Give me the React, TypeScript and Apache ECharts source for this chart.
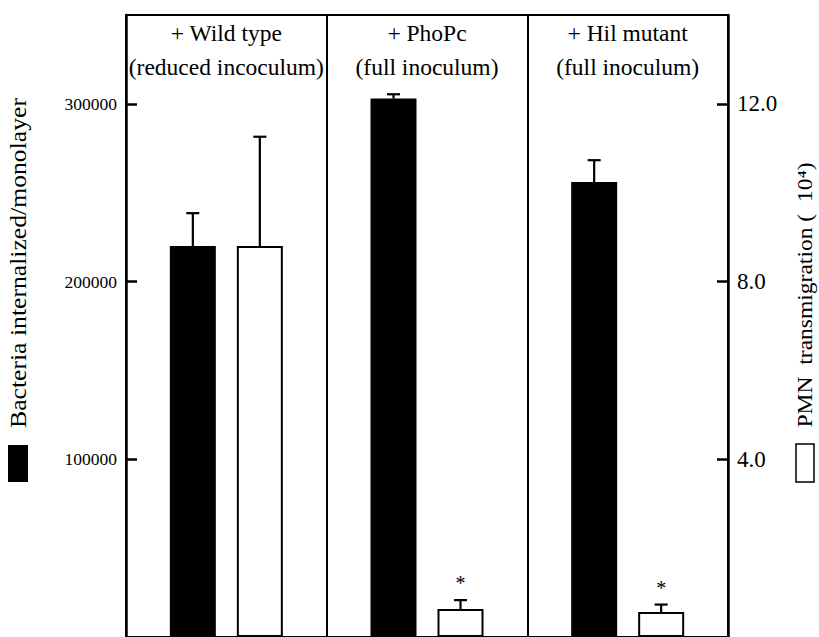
import React, { useEffect, useRef } from "react";
import * as echarts from "echarts";

// ---- data ----
const groupNames = ["+ Wild type", "+ PhoPc", "+ Hil mutant"];
const inoculum = ["(reduced incoculum)", "(full inoculum)", "(full inoculum)"];
const bacteriaValues = [220000, 303000, 256000];
const bacteriaErrors = [18500, 2400, 12300];
const pmnValues = [8.8, 0.63, 0.56];
const pmnErrors = [2.46, 0.2, 0.17];
const pmnSignificant = [false, true, true];
const leftTicks = [100000, 200000, 300000];
const rightTicks = [4, 8, 12];
const leftAxisName = "Bacteria internalized/monolayer";
const rightAxisName = "PMN  transmigration (  10⁴)";

const FONT = "Liberation Serif, Times New Roman, serif";
const BAR_W = 46;
const BAR_GAP = 21;
const OFFSET = (BAR_W + BAR_GAP) / 2;

export default function App() {
  const ref = useRef<HTMLDivElement>(null);
  useEffect(() => {
    document.body.style.margin = "0";
    const chart = echarts.init(ref.current!, null, { renderer: "svg" });
    const categories = groupNames.map((g, i) => g + "\n" + inoculum[i]);

    const errRender = (side: number, sig: boolean[]) => (params: any, api: any) => {
      const i = api.value(0);
      const base = api.coord([i, api.value(1)]);
      const top = api.coord([i, api.value(2)]);
      const x = base[0] + side * OFFSET;
      const children: any[] = [
        { type: "line", shape: { x1: x, y1: base[1], x2: x, y2: top[1] }, style: { stroke: "#000", lineWidth: 2.2 } },
        { type: "line", shape: { x1: x - 6.5, y1: top[1], x2: x + 6.5, y2: top[1] }, style: { stroke: "#000", lineWidth: 2.2 } },
      ];
      if (sig[i]) {
        children.push({
          type: "text",
          x: x,
          y: top[1] - 17,
          style: { text: "*", fontSize: 20, fontFamily: FONT, fill: "#000", align: "center", verticalAlign: "middle" },
        });
      }
      return { type: "group", children };
    };

    chart.setOption({
      animation: false,
      backgroundColor: "#fff",
      textStyle: { fontFamily: FONT },
      grid: { left: 126, right: 91, top: 15, bottom: -4 },
      xAxis: [
        {
          type: "category",
          data: categories,
          position: "bottom",
          axisLine: { show: true, onZero: false, lineStyle: { color: "#000", width: 2 } },
          axisTick: { show: false },
          axisLabel: { show: false },
          splitLine: { show: true, interval: 0, lineStyle: { color: "#000", width: 2 } },
        },
        {
          type: "category",
          data: categories,
          position: "top",
          axisLine: { show: true, onZero: false, lineStyle: { color: "#000", width: 2 } },
          axisTick: { show: false },
          axisLabel: {
            inside: true,
            interval: 0,
            margin: 1,
            fontSize: 23.5,
            lineHeight: 34,
            fontFamily: FONT,
            color: "#000",
          },
        },
      ],
      yAxis: [
        {
          type: "value",
          min: 0,
          max: 350000,
          interval: 100000,
          position: "left",
          axisLine: { show: true, lineStyle: { color: "#000", width: 2.5 } },
          axisTick: { show: true, inside: true, length: 11, lineStyle: { color: "#000", width: 2.5 } },
          splitLine: { show: false },
          axisLabel: {
            margin: 9,
            fontSize: 17.5,
            fontFamily: FONT,
            color: "#000",
            showMinLabel: false,
            showMaxLabel: false,
            formatter: (v: number) => (leftTicks.includes(v) ? String(v) : ""),
          },
        },
        {
          type: "value",
          min: 0,
          max: 14,
          interval: 4,
          position: "right",
          axisLine: { show: true, lineStyle: { color: "#000", width: 2.5 } },
          axisTick: { show: true, inside: true, length: 11, lineStyle: { color: "#000", width: 2.5 } },
          splitLine: { show: false },
          axisLabel: {
            margin: 9,
            fontSize: 23,
            fontFamily: FONT,
            color: "#000",
            showMinLabel: false,
            showMaxLabel: false,
            formatter: (v: number) => (rightTicks.includes(v) ? v.toFixed(1) : ""),
          },
        },
      ],
      series: [
        {
          name: "Bacteria",
          type: "bar",
          xAxisIndex: 0,
          yAxisIndex: 0,
          data: bacteriaValues,
          barWidth: BAR_W,
          barGap: (BAR_GAP / BAR_W) * 100 + "%",
          itemStyle: { color: "#000" },
        },
        {
          name: "PMN",
          type: "bar",
          xAxisIndex: 0,
          yAxisIndex: 1,
          data: pmnValues,
          barWidth: BAR_W,
          barGap: (BAR_GAP / BAR_W) * 100 + "%",
          itemStyle: { color: "#fff", borderColor: "#000", borderWidth: 2 },
        },
        {
          type: "custom",
          xAxisIndex: 0,
          yAxisIndex: 0,
          z: 5,
          encode: { x: 0, y: [1, 2] },
          data: bacteriaValues.map((v, i) => [i, v, v + bacteriaErrors[i]]),
          renderItem: errRender(-1, [false, false, false]),
        },
        {
          type: "custom",
          xAxisIndex: 0,
          yAxisIndex: 1,
          z: 5,
          encode: { x: 0, y: [1, 2] },
          data: pmnValues.map((v, i) => [i, v, v + pmnErrors[i]]),
          renderItem: errRender(1, pmnSignificant),
        },
      ],
      graphic: [
        {
          type: "text",
          x: 18,
          y: 263,
          rotation: Math.PI / 2,
          scaleX: 1.07,
          style: { text: leftAxisName, fontSize: 24, fontFamily: FONT, fill: "#000", align: "center", verticalAlign: "middle" },
        },
        { type: "rect", shape: { x: 8, y: 445, width: 20, height: 37 }, style: { fill: "#000" } },
        {
          type: "text",
          x: 805,
          y: 295,
          rotation: Math.PI / 2,
          scaleX: 1.07,
          style: { text: rightAxisName, fontSize: 22, fontFamily: FONT, fill: "#000", align: "center", verticalAlign: "middle" },
        },
        { type: "rect", shape: { x: 796, y: 444, width: 18, height: 38 }, style: { fill: "#fff", stroke: "#000", lineWidth: 1.5 } },
      ],
    });
    return () => chart.dispose();
  }, []);
  return <div ref={ref} style={{ position: "fixed", left: 0, top: 0, width: 819, height: 637 }} />;
}
